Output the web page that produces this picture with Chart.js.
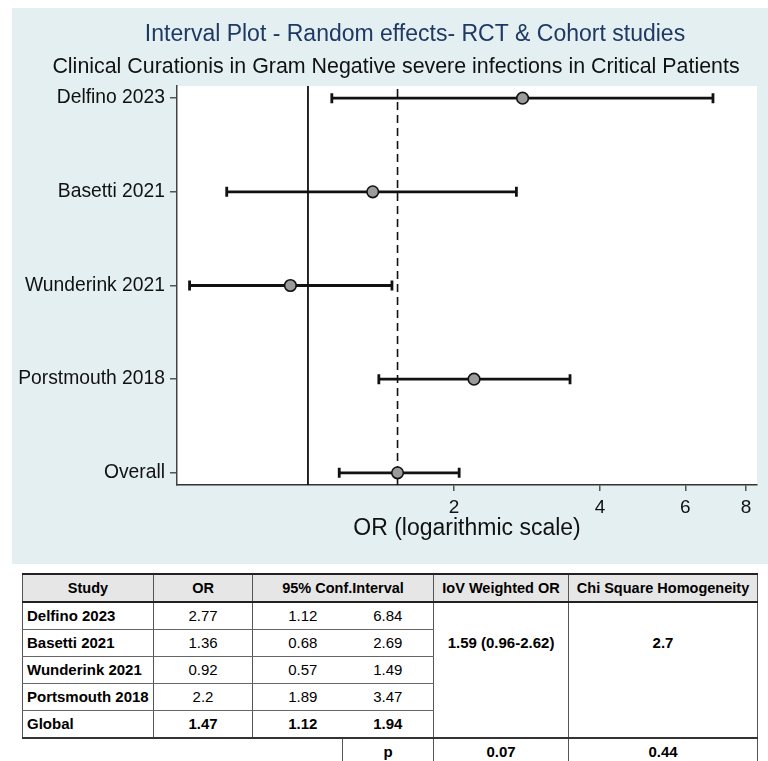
<!DOCTYPE html>
<html>
<head>
<meta charset="utf-8">
<script src="https://cdn.jsdelivr.net/npm/chart.js@4.4.1/dist/chart.umd.min.js"></script>
<style>
  html, body { margin: 0; padding: 0; background: #ffffff; }
  body { width: 768px; height: 761px; position: relative; overflow: hidden; }
  #panel { position: absolute; left: 12px; top: 8px; width: 756px; height: 556px; background: #e3eff0; }
  #forest { display: block; }
  #summary {
    position: absolute; left: 22px; top: 573px; width: 735px;
    border-collapse: collapse; table-layout: fixed;
    font-family: "Liberation Sans Narrow", "Arial Narrow", "Liberation Sans", sans-serif;
    font-size: 15px; color: #000;
  }
  #summary td, #summary th { height: 26px; padding: 0 4px; line-height: 26px; white-space: nowrap; }
  #summary th { background: #e7e6e6; font-weight: bold; text-align: center; font-size: 14.5px;
    border-top: 2px solid #222; border-bottom: 2px solid #222; border-left: 1px solid #555; border-right: 1px solid #555; }
  #summary td { text-align: center; }
  #summary td.name { text-align: left; font-weight: bold; border-left: 1px solid #555; border-right: 1px solid #555; }
  #summary td.or { border-right: 1px solid #555; }
  #summary td.hi { border-right: 1px solid #555; }
  #summary td.lo { padding-left: 14px; }
  #summary tr.data td.name, #summary tr.data td.or, #summary tr.data td.lo, #summary tr.data td.hi { border-bottom: 1px solid #666; }
  #summary tr.last td { border-bottom: 2px solid #333; font-weight: bold; }
  #summary td.merged { vertical-align: top; padding-top: 27px; line-height: 26px; font-weight: bold;
    border-right: 1px solid #555; border-bottom: 2px solid #333; }
  #summary tr.prow td { font-weight: bold; }
  #summary td.pcell { border-left: 1px solid #555; border-right: 1px solid #555; }
  #summary td.pval { border-right: 1px solid #555; }
</style>
</head>
<body>
<div id="panel"><canvas id="forest" width="756" height="556"></canvas></div>
<table id="summary">
  <colgroup>
    <col style="width:131px"><col style="width:99px"><col style="width:90px">
    <col style="width:91px"><col style="width:135px"><col style="width:189px">
  </colgroup>
  <tbody id="summaryBody"></tbody>
</table>
<script>
// Forest plot data (odds ratios with 95% confidence limits)
const studies = ['Delfino 2023', 'Basetti 2021', 'Wunderink 2021', 'Porstmouth 2018', 'Overall'];
const oddsRatio = [2.77, 1.36, 0.92, 2.2, 1.53];
const ciLower = [1.12, 0.68, 0.57, 1.4, 1.16];
const ciUpper = [6.84, 2.69, 1.49, 3.47, 2.05];
const xTickValues = [2, 4, 6, 8];
const nullEffect = 1;
const pooledOR = 1.53;

// Summary table contents
const tableHeaders = ['Study', 'OR', '95% Conf.Interval', 'IoV Weighted OR', 'Chi Square Homogeneity'];
const tableStudies = ['Delfino 2023', 'Basetti 2021', 'Wunderink 2021', 'Portsmouth 2018', 'Global'];
const tableOR = ['2.77', '1.36', '0.92', '2.2', '1.47'];
const tableLower = ['1.12', '0.68', '0.57', '1.89', '1.12'];
const tableUpper = ['6.84', '2.69', '1.49', '3.47', '1.94'];
const weightedOR = '1.59 (0.96-2.62)';
const chiSquare = '2.7';
const pLabel = 'p';
const pValues = ['0.07', '0.44'];

const titleText = 'Interval Plot - Random effects- RCT & Cohort studies';
const subtitleText = 'Clinical Curationis in Gram Negative severe infections in Critical Patients';
const xAxisTitle = 'OR (logarithmic scale)';

// ---- table ----
(function buildTable() {
  const body = document.getElementById('summaryBody');
  let html = '<tr>' +
    '<th>' + tableHeaders[0] + '</th>' +
    '<th>' + tableHeaders[1] + '</th>' +
    '<th colspan="2">' + tableHeaders[2] + '</th>' +
    '<th>' + tableHeaders[3] + '</th>' +
    '<th>' + tableHeaders[4] + '</th></tr>';
  tableStudies.forEach((s, i) => {
    const last = i === tableStudies.length - 1;
    html += '<tr class="' + (last ? 'last' : 'data') + '">' +
      '<td class="name">' + s + '</td>' +
      '<td class="or">' + tableOR[i] + '</td>' +
      '<td class="lo">' + tableLower[i] + '</td>' +
      '<td class="hi">' + tableUpper[i] + '</td>';
    if (i === 0) {
      html += '<td class="merged" rowspan="' + tableStudies.length + '">' + weightedOR + '</td>' +
              '<td class="merged" rowspan="' + tableStudies.length + '">' + chiSquare + '</td>';
    }
    html += '</tr>';
  });
  html += '<tr class="prow"><td colspan="3"></td><td class="pcell">' + pLabel + '</td>' +
          '<td class="pval">' + pValues[0] + '</td><td class="pval">' + pValues[1] + '</td></tr>';
  body.innerHTML = html;
})();

// ---- chart ----
const FONT = "'Liberation Sans', Arial, sans-serif";
Chart.defaults.font.family = FONT;

// log-axis bounds so that the axis runs a little past the outer ticks
const xMin = 0.537;
const xMax = 8.43;

const plotBackground = {
  id: 'plotBackground',
  beforeDraw(chart) {
    const { ctx, chartArea: a } = chart;
    ctx.save();
    ctx.fillStyle = '#ffffff';
    ctx.fillRect(a.left, a.top, a.right - a.left, a.bottom - a.top);
    ctx.restore();
  }
};

const headings = {
  id: 'headings',
  afterDraw(chart) {
    const ctx = chart.ctx;
    ctx.save();
    ctx.textAlign = 'center';
    ctx.textBaseline = 'middle';
    ctx.fillStyle = '#1f3864';
    ctx.font = '23px ' + FONT;
    ctx.fillText(titleText, 403, 27);
    ctx.fillStyle = '#111111';
    ctx.font = '21.4px ' + FONT;
    ctx.fillText(subtitleText, 384, 59);
    ctx.restore();
  }
};

// reference lines + confidence-interval whiskers, drawn under the point markers
const intervals = {
  id: 'intervals',
  beforeDatasetsDraw(chart) {
    const { ctx, chartArea: a, scales: { x, y } } = chart;
    ctx.save();
    // line of no effect
    ctx.strokeStyle = '#111';
    ctx.lineWidth = 1.8;
    let px = x.getPixelForValue(nullEffect);
    ctx.beginPath(); ctx.moveTo(px, a.top); ctx.lineTo(px, a.bottom); ctx.stroke();
    // pooled estimate
    ctx.setLineDash([8, 5]);
    ctx.lineDashOffset = -3;
    ctx.lineWidth = 1.6;
    px = x.getPixelForValue(pooledOR);
    ctx.beginPath(); ctx.moveTo(px, a.top); ctx.lineTo(px, a.bottom); ctx.stroke();
    ctx.setLineDash([]);
    // whiskers
    ctx.lineWidth = 2.8;
    ctx.lineCap = 'butt';
    for (let i = 0; i < studies.length; i++) {
      const py = y.getPixelForValue(i);
      const x1 = x.getPixelForValue(ciLower[i]);
      const x2 = x.getPixelForValue(ciUpper[i]);
      ctx.beginPath();
      ctx.moveTo(x1, py); ctx.lineTo(x2, py);
      ctx.moveTo(x1, py - 5); ctx.lineTo(x1, py + 5);
      ctx.moveTo(x2, py - 5); ctx.lineTo(x2, py + 5);
      ctx.stroke();
    }
    ctx.restore();
  }
};

new Chart(document.getElementById('forest'), {
  type: 'scatter',
  data: {
    datasets: [{
      data: studies.map((s, i) => ({ x: oddsRatio[i], y: i })),
      pointRadius: 5.8,
      pointBackgroundColor: '#9b9b9b',
      pointBorderColor: '#111111',
      pointBorderWidth: 1.6
    }]
  },
  options: {
    responsive: false,
    animation: false,
    devicePixelRatio: 1,
    layout: { padding: { top: 78, right: 11, bottom: 0, left: 0 } },
    plugins: {
      legend: { display: false },
      tooltip: { enabled: false },
      title: { display: false }
    },
    scales: {
      x: {
        type: 'logarithmic',
        position: 'bottom',
        min: xMin,
        max: xMax,
        bounds: 'data',
        afterBuildTicks: s => { s.ticks = xTickValues.map(v => ({ value: v })); },
        afterFit: s => { s.height = 79; },
        ticks: {
          autoSkip: false, maxRotation: 0, padding: 5,
          color: '#111', font: { size: 19 },
          callback: v => String(v)
        },
        grid: { drawOnChartArea: false, drawTicks: true, tickLength: 6, color: '#555', lineWidth: 1.5 },
        border: { color: '#333', width: 1.5 },
        title: {
          display: true, text: xAxisTitle, color: '#111',
          font: { size: 23 }, padding: { top: 0, bottom: 22 }
        }
      },
      y: {
        type: 'linear',
        reverse: true,
        min: -0.13,
        max: 4.13,
        bounds: 'data',
        afterBuildTicks: s => { s.ticks = studies.map((_, i) => ({ value: i })); },
        afterFit: s => { s.width = 165; },
        ticks: {
          autoSkip: false, padding: 5,
          color: '#111', font: { size: 19.3 },
          callback: v => studies[v]
        },
        grid: { drawOnChartArea: false, drawTicks: true, tickLength: 7, color: '#555', lineWidth: 1.5 },
        border: { color: '#444', width: 1.5 }
      }
    }
  },
  plugins: [plotBackground, intervals, headings]
});
</script>
</body>
</html>
